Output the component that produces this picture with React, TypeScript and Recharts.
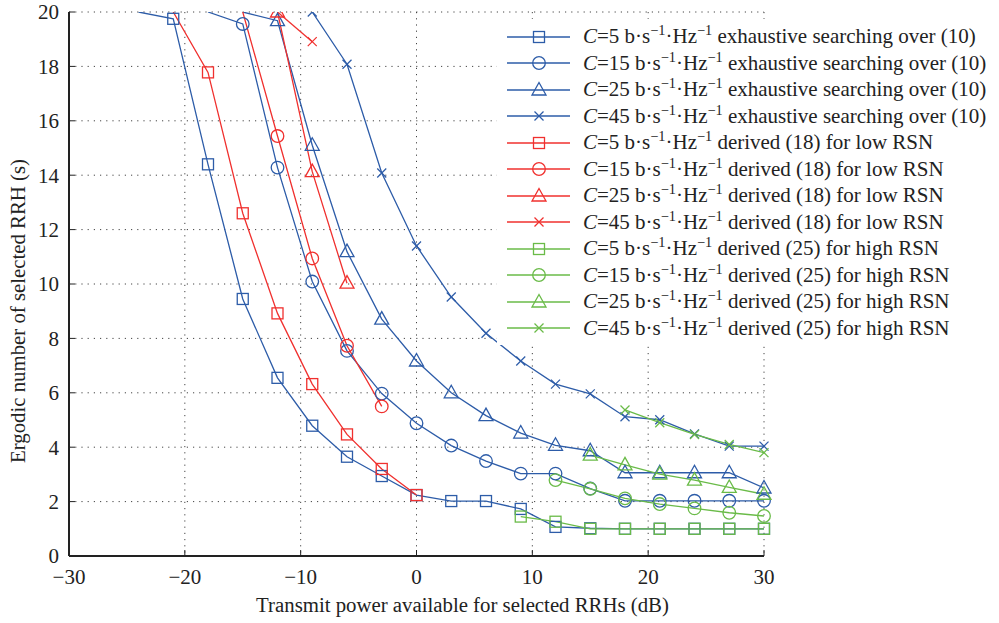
import { LineChart, Line, XAxis, YAxis, CartesianGrid, Legend } from 'recharts';

const BLUE = '#2d5ca8';
const RED = '#f0302e';
const GREEN = '#6abb48';
const FONT = 'Liberation Serif, DejaVu Serif, serif';

// transmit power (dB), one sample every 3 dB
const powerDb = [-30, -27, -24, -21, -18, -15, -12, -9, -6, -3, 0, 3, 6, 9, 12, 15, 18, 21, 24, 27, 30];

const _ = null;
// exhaustive searching over (10)
const exh5 = [_, _, 20, 19.75, 14.4, 9.45, 6.55, 4.79, 3.65, 2.94, 2.24, 2.02, 2.02, 1.73, 1.07, 1.02, 1, 1, 1, 1, 1];
const exh15 = [_, _, _, _, 20, 19.56, 14.28, 10.09, 7.54, 5.97, 4.88, 4.06, 3.49, 3.03, 3.03, 2.48, 2.03, 2.03, 2.03, 2.03, 2.03];
const exh25 = [_, _, _, _, _, 20, 19.68, 15.1, 11.19, 8.71, 7.17, 6.0, 5.16, 4.52, 4.07, 3.87, 3.06, 3.06, 3.06, 3.06, 2.5];
const exh45 = [_, _, _, _, _, _, _, 20, 18.08, 14.08, 11.4, 9.52, 8.19, 7.17, 6.32, 5.96, 5.12, 5.01, 4.49, 4.04, 4.04];
// derived (18) for low RSN
const low5 = [_, _, _, 20, 17.78, 12.6, 8.92, 6.32, 4.47, 3.2, 2.24, _, _, _, _, _, _, _, _, _, _];
const low15 = [_, _, _, _, _, 20, 15.44, 10.94, 7.73, 5.5, _, _, _, _, _, _, _, _, _, _, _];
const low25 = [_, _, _, _, _, _, 20, 14.13, 10.03, _, _, _, _, _, _, _, _, _, _, _, _];
const low45 = [_, _, _, _, _, _, 20, 18.91, _, _, _, _, _, _, _, _, _, _, _, _, _];
// derived (25) for high RSN
const high5 = [_, _, _, _, _, _, _, _, _, _, _, _, _, 1.45, 1.26, 1, 1, 1, 1, 1, 1];
const high15 = [_, _, _, _, _, _, _, _, _, _, _, _, _, _, 2.79, 2.47, 2.12, 1.91, 1.75, 1.59, 1.47];
const high25 = [_, _, _, _, _, _, _, _, _, _, _, _, _, _, _, 3.71, 3.35, 3.01, 2.79, 2.52, 2.27];
const high45 = [_, _, _, _, _, _, _, _, _, _, _, _, _, _, _, _, 5.37, 4.9, 4.47, 4.1, 3.8];

const xTicks = [-30, -20, -10, 0, 10, 20, 30];
const yTicks = [0, 2, 4, 6, 8, 10, 12, 14, 16, 18, 20];

type Shape = 'square' | 'circle' | 'triangle' | 'cross';

const series: { key: string; c: number; values: (number | null)[]; color: string; shape: Shape; tail: string; showTop?: boolean }[] = [
  { key: 'exh5', c: 5, values: exh5, color: BLUE, shape: 'square', tail: 'exhaustive searching over (10)' },
  { key: 'exh15', c: 15, values: exh15, color: BLUE, shape: 'circle', tail: 'exhaustive searching over (10)' },
  { key: 'exh25', c: 25, values: exh25, color: BLUE, shape: 'triangle', tail: 'exhaustive searching over (10)' },
  { key: 'exh45', c: 45, values: exh45, color: BLUE, shape: 'cross', tail: 'exhaustive searching over (10)', showTop: true },
  { key: 'low5', c: 5, values: low5, color: RED, shape: 'square', tail: 'derived (18) for low RSN' },
  { key: 'low15', c: 15, values: low15, color: RED, shape: 'circle', tail: 'derived (18) for low RSN' },
  { key: 'low25', c: 25, values: low25, color: RED, shape: 'triangle', tail: 'derived (18) for low RSN', showTop: true },
  { key: 'low45', c: 45, values: low45, color: RED, shape: 'cross', tail: 'derived (18) for low RSN' },
  { key: 'high5', c: 5, values: high5, color: GREEN, shape: 'square', tail: 'derived (25) for high RSN' },
  { key: 'high15', c: 15, values: high15, color: GREEN, shape: 'circle', tail: 'derived (25) for high RSN' },
  { key: 'high25', c: 25, values: high25, color: GREEN, shape: 'triangle', tail: 'derived (25) for high RSN' },
  { key: 'high45', c: 45, values: high45, color: GREEN, shape: 'cross', tail: 'derived (25) for high RSN' },
];

const data = powerDb.map((x, i) => {
  const row: Record<string, number | null> = { x };
  series.forEach((s) => { row[s.key] = s.values[i]; });
  return row;
});

function marker(shape: Shape, cx: number, cy: number, color: string, key?: string | number) {
  const common = { stroke: color, strokeWidth: 1.3, fill: 'none' };
  if (shape === 'square') return <rect key={key} x={cx - 5.5} y={cy - 5.5} width={11} height={11} {...common} />;
  if (shape === 'circle') return <circle key={key} cx={cx} cy={cy} r={6.3} {...common} />;
  if (shape === 'triangle')
    return <polygon key={key} points={`${cx},${cy - 7.5} ${cx - 7},${cy + 5} ${cx + 7},${cy + 5}`} {...common} />;
  return (
    <g key={key} {...common}>
      <line x1={cx - 4.5} y1={cy - 4.5} x2={cx + 4.5} y2={cy + 4.5} />
      <line x1={cx - 4.5} y1={cy + 4.5} x2={cx + 4.5} y2={cy - 4.5} />
    </g>
  );
}

const fmt = (v: number) => (v < 0 ? `\u2212${-v}` : `${v}`);

const supStyle = { fontSize: '0.68em', verticalAlign: '0.55em', lineHeight: 0 };
const axisStroke = { stroke: '#222', strokeWidth: 2 };

function LegendBox() {
  return (
    <div style={{ background: '#fff', width: 502, height: 326, paddingTop: 4.5, boxSizing: 'border-box', fontFamily: FONT, fontSize: 21, color: '#222' }}>
      {series.map((s) => (
        <div key={s.key} style={{ display: 'flex', alignItems: 'center', height: 26.5, whiteSpace: 'nowrap' }}>
          <svg width={86} height={20} style={{ flex: 'none' }}>
            <line x1={10} x2={73} y1={10} y2={10} stroke={s.color} strokeWidth={1.3} />
            {marker(s.shape, 42, 10, s.color)}
          </svg>
          <span>
            <i>C</i>={s.c} b·s<sup style={supStyle}>−1</sup>·Hz<sup style={supStyle}>−1</sup> {s.tail}
          </span>
        </div>
      ))}
    </div>
  );
}

export default function App() {
  return (
    <div style={{ position: 'absolute', left: 0, top: 0, width: 999, height: 623, background: '#fff', fontFamily: FONT }}>
      <LineChart width={999} height={623} data={data} margin={{ top: 12, right: 235, bottom: 0, left: 9 }} style={{ fontFamily: FONT }}>
        <CartesianGrid stroke="#444" strokeDasharray="1.2 5" strokeWidth={1} />
        <XAxis
          dataKey="x" type="number" domain={[-30, 30]} ticks={xTicks} tickFormatter={fmt}
          height={67} tickSize={-6} tickMargin={19} interval={0}
          axisLine={axisStroke} tickLine={{ stroke: '#222' }}
          tick={{ fill: '#222', fontSize: 21, fontFamily: FONT }}
          label={{ value: 'Transmit power available for selected RRHs (dB)', position: 'insideBottom', offset: 11, dx: 46, fill: '#222', fontSize: 20.8, fontFamily: FONT }}
        />
        <XAxis
          xAxisId="top" orientation="top" dataKey="x" type="number" domain={[-30, 30]} ticks={xTicks}
          height={0} tickSize={-6} interval={0} tick={false} axisLine={axisStroke} tickLine={{ stroke: '#222' }}
        />
        <YAxis
          type="number" domain={[0, 20]} ticks={yTicks} allowDataOverflow interval={0}
          width={60} tickSize={-6} tickMargin={16}
          axisLine={axisStroke} tickLine={{ stroke: '#222' }}
          tick={{ fill: '#222', fontSize: 21, fontFamily: FONT }}
          label={{ value: 'Ergodic number of selected RRH (s)', angle: -90, position: 'insideLeft', offset: 0, dx: 9, dy: 27, fill: '#222', fontSize: 20.8, fontFamily: FONT, style: { textAnchor: 'middle' } }}
        />
        <YAxis
          yAxisId="right" orientation="right" type="number" domain={[0, 20]} ticks={yTicks} interval={0}
          width={0} tickSize={-6} tick={false} axisLine={axisStroke} tickLine={{ stroke: '#222' }}
        />
        {series.map((s) => (
          <Line
            key={s.key}
            dataKey={s.key}
            stroke={s.color}
            strokeWidth={1.3}
            isAnimationActive={false}
            connectNulls={false}
            legendType="none"
            dot={(p: any) => {
              const v = p.value;
              if (v == null || p.cx == null || p.cy == null) return <g key={p.index} />;
              if (v >= 20 && !s.showTop) return <g key={p.index} />;
              return marker(s.shape, p.cx, p.cy, s.color, p.index);
            }}
          />
        ))}
        <Legend
          layout="vertical" align="center" verticalAlign="middle"
          content={() => <LegendBox />}
          wrapperStyle={{ position: 'absolute', left: 497, top: 19, width: 502, height: 326 }}
        />
      </LineChart>
    </div>
  );
}
